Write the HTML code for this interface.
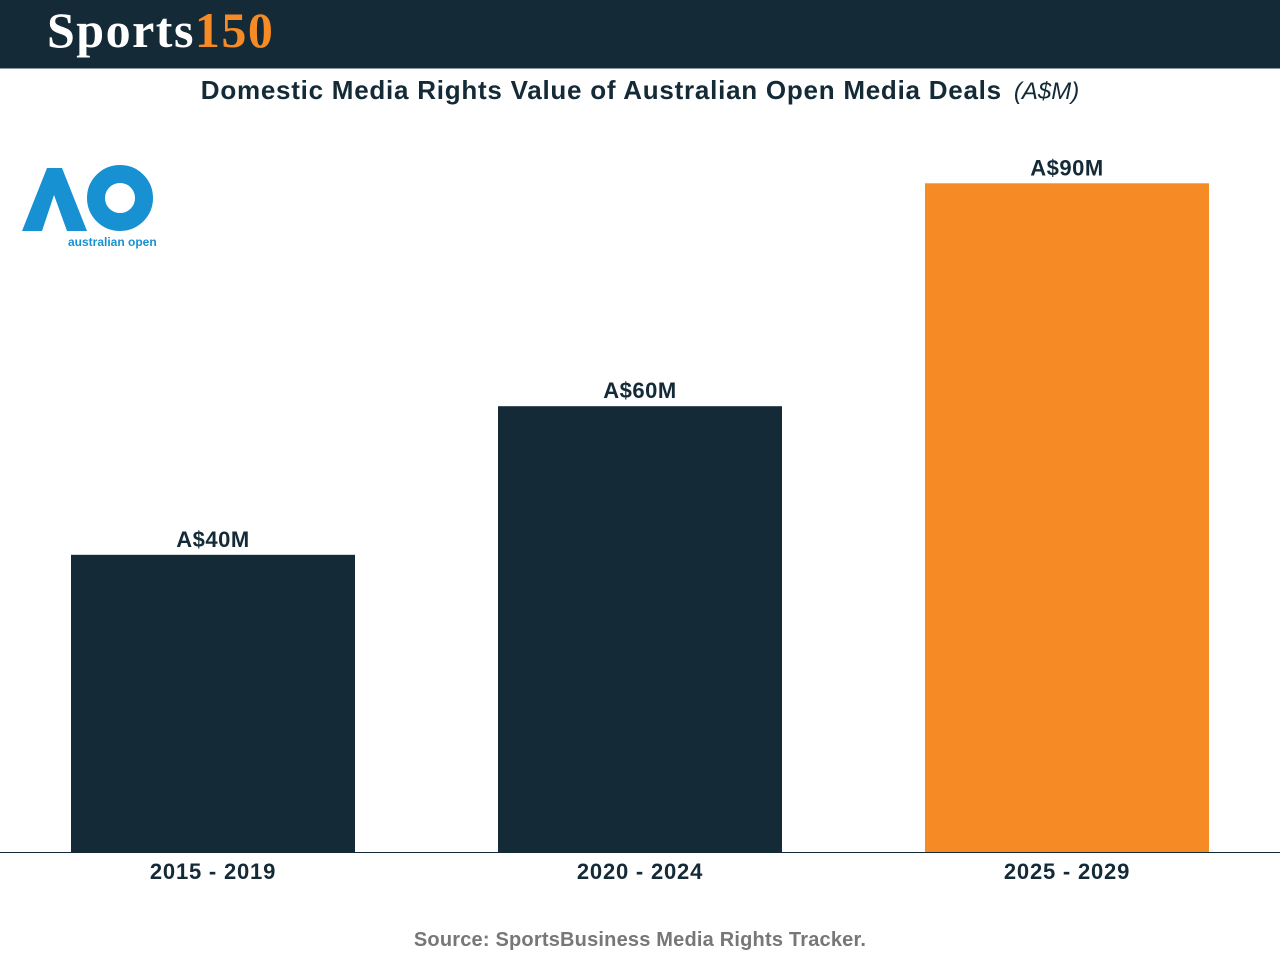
<!DOCTYPE html>
<html><head><meta charset="utf-8"><style>
body{margin:0;width:1280px;height:960px;background:#fff;font-family:"Liberation Sans",sans-serif;position:relative;overflow:hidden}
.hdr{position:absolute;left:0;top:0;width:1280px;height:68px;background:#142a37;border-bottom:1px solid #8a97a0}
.logo{position:absolute;left:47px;top:1px;font-family:"Liberation Serif",serif;font-weight:bold;font-size:50px;color:#fff;letter-spacing:1.5px}
.logo span{color:#f68a24}
.title{position:absolute;top:75px;left:0;width:1280px;text-align:center;font-weight:bold;font-size:26px;color:#142a37;letter-spacing:0.75px}
.title i{font-weight:normal;font-size:24px;margin-left:12px;letter-spacing:0}
.src{position:absolute;top:929px;width:1280px;text-align:center;font-weight:bold;font-size:20px;color:#777;letter-spacing:0.2px}
</style></head><body>
<div class="hdr"><div class="logo">Sports<span>150</span></div></div>
<div class="title">Domestic Media Rights Value of Australian Open Media Deals<i>(A$M)</i></div>
<svg width="180" height="100" style="position:absolute;left:0;top:155px">
<polygon points="22,76 47,13 62,13 87,76 67,76 54,40 42,76" fill="#1791d1"/>
<circle cx="120" cy="43" r="24" fill="none" stroke="#1791d1" stroke-width="18"/>
<text x="68" y="91" font-size="12" font-weight="bold" fill="#1791d1" font-family="Liberation Sans">australian open</text>
</svg>
<svg id="chart" width="1280" height="960" style="position:absolute;left:0;top:0"></svg>
<div class="src">Source: SportsBusiness Media Rights Tracker.</div>
<script>
const categories=["2015 - 2019","2020 - 2024","2025 - 2029"];
const values=[40,60,90];
const labels=["A$40M","A$60M","A$90M"];
const colors=["#142a37","#142a37","#f68a24"];
const svg=document.getElementById('chart');
const NS="http://www.w3.org/2000/svg";
const base=852, scale=7.43;
const y=v=>base-v*scale;
const x=i=>71+i*427;
const bw=284;
categories.forEach((c,i)=>{
 const r=document.createElementNS(NS,'rect');
 r.setAttribute('x',x(i));r.setAttribute('y',y(values[i]));r.setAttribute('width',bw);r.setAttribute('height',base-y(values[i]));r.setAttribute('fill',colors[i]);
 
 
 svg.appendChild(r);
 const t=document.createElementNS(NS,'text');
 t.setAttribute('x',x(i)+bw/2);t.setAttribute('y',y(values[i])-8);t.setAttribute('text-anchor','middle');
 t.setAttribute('font-size','22');t.setAttribute('font-weight','bold');t.setAttribute('fill','#142a37');t.setAttribute('font-family','Liberation Sans');t.setAttribute('letter-spacing','0.5');
 t.textContent=labels[i];
 
 
 svg.appendChild(t);
 const a=document.createElementNS(NS,'text');
 a.setAttribute('x',x(i)+bw/2);a.setAttribute('y',879);a.setAttribute('text-anchor','middle');
 a.setAttribute('font-size','22');a.setAttribute('font-weight','bold');a.setAttribute('fill','#142a37');a.setAttribute('font-family','Liberation Sans');a.setAttribute('letter-spacing','0.8');
 a.textContent=c;
 
 
 svg.appendChild(a);
});
const l=document.createElementNS(NS,'line');
l.setAttribute('x1',0);l.setAttribute('x2',1280);l.setAttribute('y1',base+0.5);l.setAttribute('y2',base+0.5);l.setAttribute('stroke','#142a37');


svg.appendChild(l);
</script>
</body></html>
